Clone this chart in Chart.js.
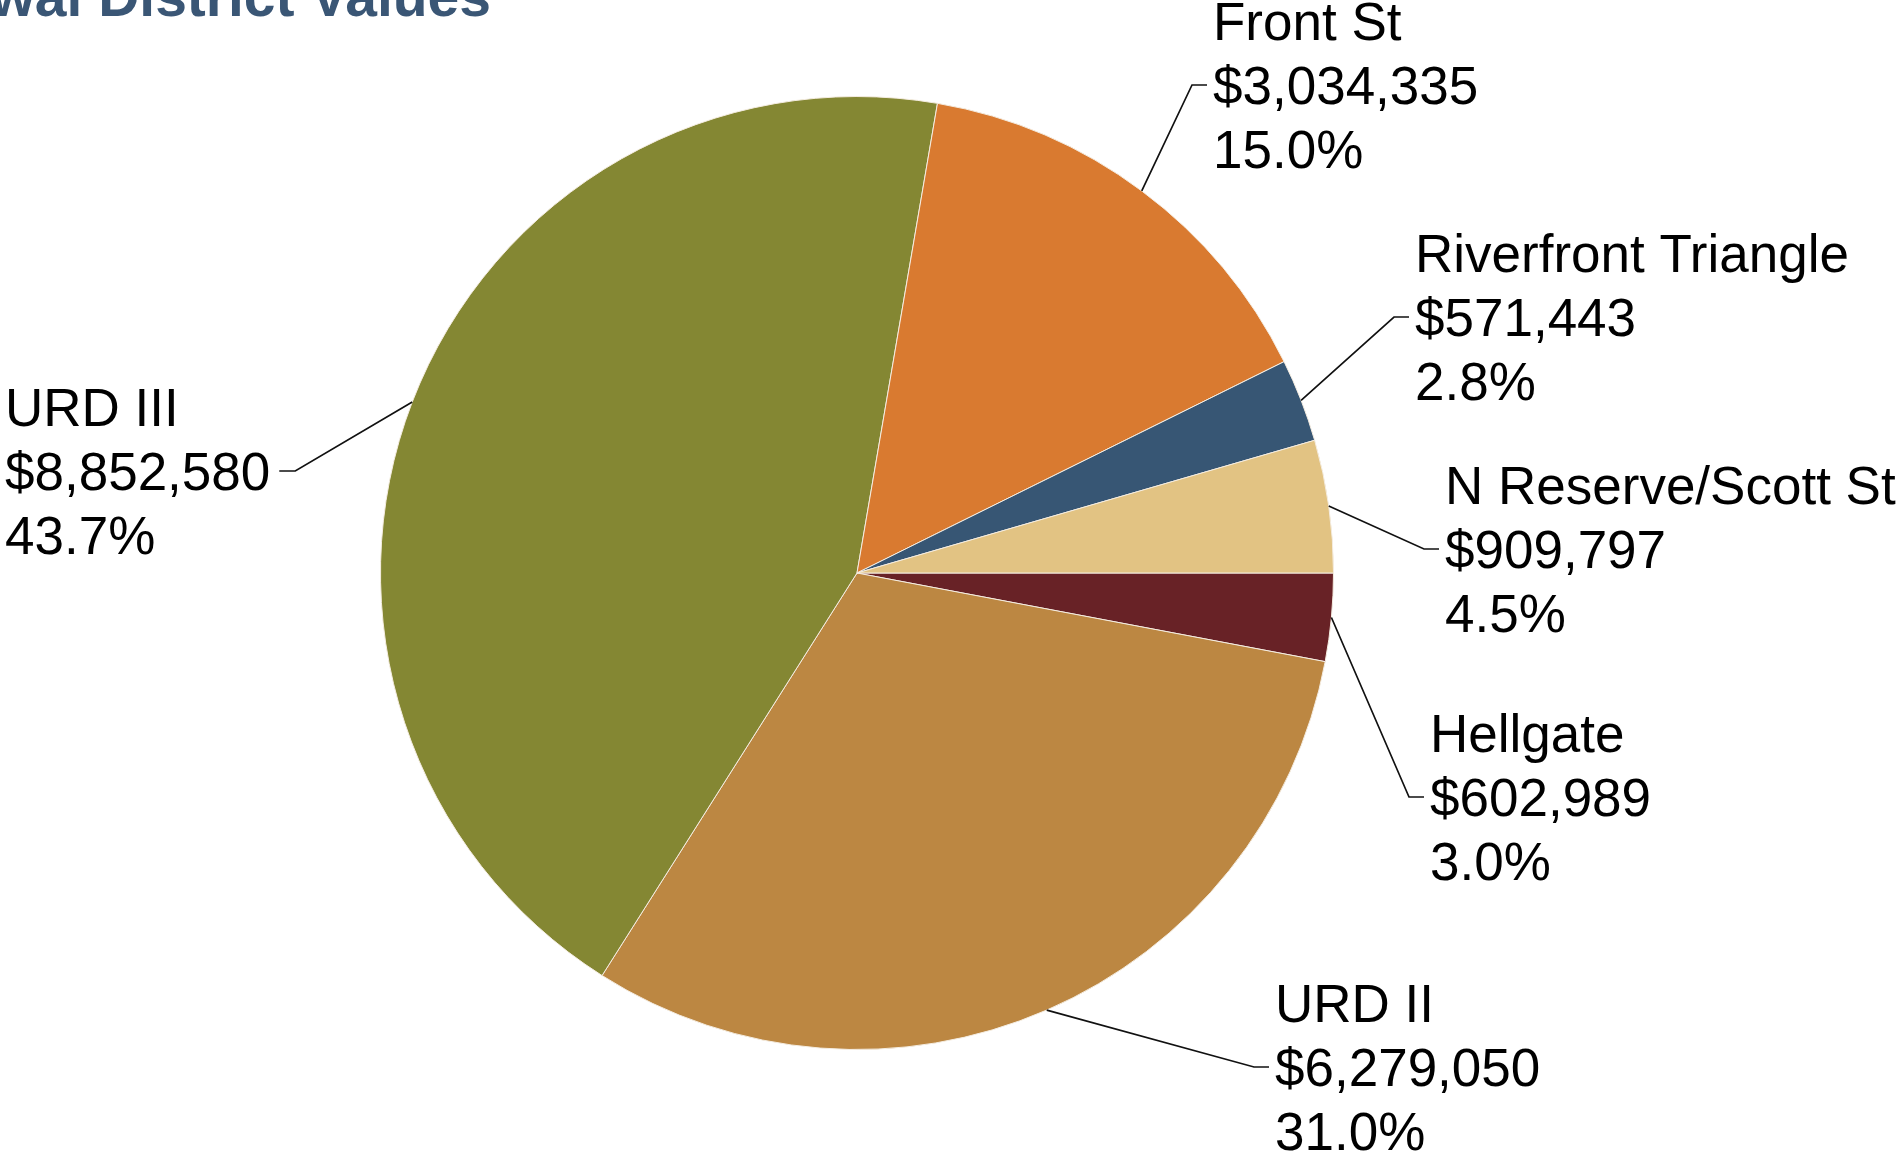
<!DOCTYPE html>
<html>
<head>
<meta charset="utf-8">
<title>Urban Renewal District Values</title>
<script src="https://cdn.jsdelivr.net/npm/chart.js@4/dist/chart.umd.min.js"></script>
<style>
  html, body { margin: 0; padding: 0; background: #fff; }
  #wrap { width: 1903px; height: 1154px; position: relative; }
</style>
</head>
<body>
<div id="wrap"><canvas id="districtChart"></canvas></div>
<script>
// slices in clockwise order, first one starts at 3 o'clock
const districts = ["Hellgate", "URD II", "URD III", "Front St", "Riverfront Triangle", "N Reserve/Scott St"];
const values = [602989, 6279050, 8852580, 3034335, 571443, 909797];
const colors = ["#682226", "#BC8742", "#848733", "#D97A30", "#375674", "#E2C383"];
const titleText = "Urban Renewal District Values";

// where each label block sits: left edge of text, baseline of the middle ($) line
const labelSpots = [
  { x: 1430, y: 816, side: "right" },
  { x: 1275, y: 1086, side: "right" },
  { x: 5, y: 490, side: "left" },
  { x: 1213, y: 104, side: "right" },
  { x: 1415, y: 336, side: "right" },
  { x: 1445, y: 568, side: "right" },
];

const fmtMoney = (v) => "$" + v.toLocaleString("en-US");

const labelPlugin = {
  id: "calloutLabels",
  afterDraw(chart) {
    const ctx = chart.ctx;
    const meta = chart.getDatasetMeta(0);
    const total = values.reduce((a, b) => a + b, 0);
    const lineH = 64;

    ctx.save();
    ctx.font = '53px "Liberation Sans", Arial, sans-serif';
    ctx.textBaseline = "alphabetic";
    ctx.fillStyle = "#000";
    ctx.strokeStyle = "#111";
    ctx.lineWidth = 1.7;

    meta.data.forEach((arc, i) => {
      const p = arc.getProps(["x", "y", "startAngle", "endAngle", "outerRadius"], true);
      const mid = (p.startAngle + p.endAngle) / 2;
      const ax = p.x + Math.cos(mid) * p.outerRadius;
      const ay = p.y + Math.sin(mid) * p.outerRadius;
      const spot = labelSpots[i];
      const lines = [
        districts[i],
        fmtMoney(values[i]),
        ((values[i] / total) * 100).toFixed(1) + "%",
      ];
      const elbowY = spot.y - 19;
      let elbowX, stubX;
      if (spot.side === "right") {
        elbowX = spot.x - 21;
        stubX = spot.x - 6;
      } else {
        const w = ctx.measureText(lines[1]).width;
        stubX = spot.x + w + 9;
        elbowX = spot.x + w + 25;
      }
      ctx.beginPath();
      ctx.moveTo(ax, ay);
      ctx.lineTo(elbowX, elbowY);
      ctx.lineTo(stubX, elbowY);
      ctx.stroke();

      ctx.textAlign = "left";
      lines.forEach((t, k) => {
        ctx.fillText(t, spot.x, spot.y + (k - 1) * lineH);
      });
    });

    // title, cut off by the top-left edge like the source
    ctx.font = 'bold 57px "Liberation Sans", Arial, sans-serif';
    ctx.fillStyle = "#3A5675";
    ctx.textAlign = "right";
    ctx.fillText(titleText, 491, 16);
    ctx.restore();
  },
};

document.addEventListener("DOMContentLoaded", () => {
  new Chart(document.getElementById("districtChart"), {
    type: "pie",
    data: {
      labels: districts,
      datasets: [
        {
          data: values,
          backgroundColor: colors,
          borderColor: "#f4ece0",
          borderWidth: 1,
        },
      ],
    },
    options: {
      responsive: true,
      maintainAspectRatio: false,
      animation: false,
      rotation: 90,
      layout: { padding: { left: 380, right: 569, top: 96, bottom: 104 } },
      plugins: {
        legend: { display: false },
        tooltip: { enabled: false },
        title: { display: false },
      },
    },
    plugins: [labelPlugin],
  });
});
</script>
</body>
</html>
